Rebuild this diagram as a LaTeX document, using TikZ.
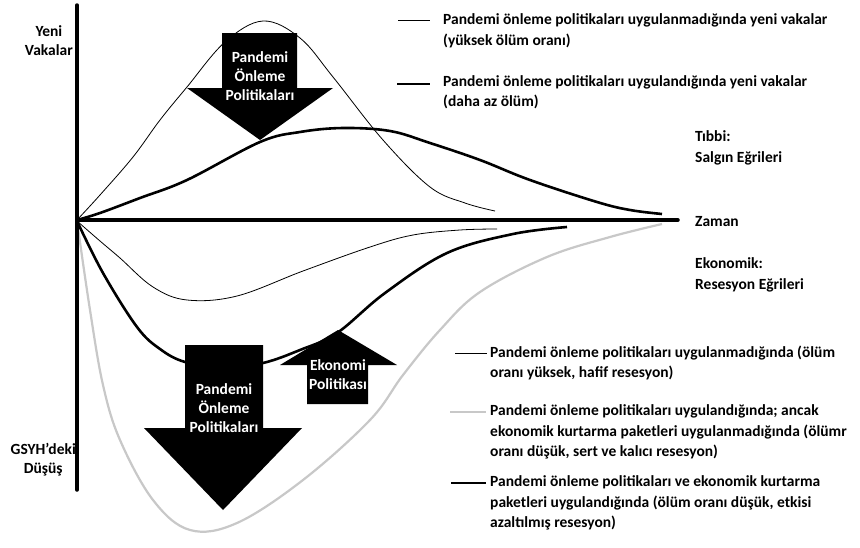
\documentclass[tikz,border=0pt]{standalone}
\usepackage{fontspec}
\setmainfont{Carlito}
\begin{document}
\begin{tikzpicture}[x=1pt,y=-1pt,
  lbl/.style={inner sep=0pt, font=\fontsize{15.5}{20.5}\selectfont\bfseries, align=left, anchor=west},
  lblr/.style={inner sep=0pt, font=\fontsize{15.5}{19}\selectfont\bfseries, align=center, anchor=east},
  arrtxt/.style={inner sep=0pt, text=white, font=\fontsize{15.5}{20}\selectfont\bfseries, align=center},
  thincurve/.style={line width=0.8pt, black},
  thickcurve/.style={line width=2.6pt, black},
  graycurve/.style={line width=2.2pt, color=grayc},
  axis/.style={line width=3.5pt, line cap=round}]
\definecolor{grayc}{RGB}{200,200,200}
\useasboundingbox (0,0) rectangle (860,547);
\fill[white] (0,0) rectangle (860,547);

% economic curves
\draw[graycurve] plot[smooth, tension=0.6] coordinates {(77,221) (90,310) (103,385) (120,440) (153,500) (190,530) (237,523) (303,480) (370,420) (403,375) (440,330) (480,292) (547,257) (610,237) (662,224)};
\draw[thincurve] plot[smooth, tension=0.6] coordinates {(77,221) (100,241) (120,258) (153,287) (187,300) (237,296) (303,271) (370,247) (413,235) (460,230) (497,229)};
\draw[thickcurve] plot[smooth, tension=0.6] coordinates {(77,221) (103,273) (137,327) (160,349) (185,362) (224,368) (263,363) (300,350) (337,333) (385,293) (447,253) (513,234) (567,227)};

% medical curves
\draw[thincurve] plot[smooth, tension=0.6] coordinates {(77,220) (100,195) (133,157) (160,120) (187,87) (225,42) (263,21) (300,38) (333,77) (383,140) (430,187) (465,203) (495,211)};
\draw[thickcurve] plot[smooth, tension=0.6] coordinates {(77,220) (100,213) (140,198) (187,180) (260,142) (300,132) (343,128) (390,131) (430,143) (480,160) (530,180) (597,202) (630,210) (662,214)};

% axes
\draw[axis] (77,5) -- (77,490);
\draw[axis] (77,220) -- (678,220);

% upper arrow
\fill (222,33) -- (297,33) -- (297,88) -- (333,88) -- (260,140) -- (187,88) -- (222,88) -- cycle;
\node[arrtxt] (ua) at (260,76) {Pandemi\\[-1pt]Önleme\\[-1pt]Politikaları};

% lower arrow
\fill (185,345) -- (263,345) -- (263,428) -- (302,428) -- (223,510) -- (144,428) -- (185,428) -- cycle;
\node[arrtxt] (la) at (224,408) {Pandemi\\[-1pt]Önleme\\[-1pt]Politikaları};

% economy arrow
\fill (307,404) -- (368,404) -- (368,365) -- (397,365) -- (338,330) -- (280,365) -- (307,365) -- cycle;
\node[arrtxt] (ea) at (338,375) {Ekonomi\\[-1pt]Politikası};

% axis labels
\node[lblr] (yv) at (73,41) {Yeni\\Vakalar};
\node[lblr] (gd) at (76,460) {GSYH'deki\\Düşüş};
\node[lbl] (zm) at (695,222) {Zaman};
\node[lbl] (tb) at (695,148) {Tıbbi:\\Salgın Eğrileri};
\node[lbl] (ek) at (695,275) {Ekonomik:\\Resesyon Eğrileri};

% upper legend
\coordinate (l1a) at (398,20); \coordinate (l1b) at (430,20);
\draw[thincurve] (l1a) -- (l1b);
\node[lbl] (t1) at (443,31) {Pandemi önleme politikaları uygulanmadığında yeni vakalar\\(yüksek ölüm oranı)};
\coordinate (l2a) at (397,84); \coordinate (l2b) at (430,84);
\draw[thickcurve] (l2a) -- (l2b);
\node[lbl] (t2) at (443,92) {Pandemi önleme politikaları uygulandığında yeni vakalar\\(daha az ölüm)};

% lower legend
\coordinate (l3a) at (455,353); \coordinate (l3b) at (487,353);
\draw[thincurve] (l3a) -- (l3b);
\node[lbl] (t3) at (490,363) {Pandemi önleme politikaları uygulanmadığında (ölüm\\oranı yüksek, hafif resesyon)};
\coordinate (l4a) at (450,412); \coordinate (l4b) at (486,412);
\draw[graycurve] (l4a) -- (l4b);
\node[lbl] (t4) at (490,432) {Pandemi önleme politikaları uygulandığında; ancak\\ekonomik kurtarma paketleri uygulanmadığında (ölümr\\oranı düşük, sert ve kalıcı resesyon)};
\coordinate (l5a) at (451,483); \coordinate (l5b) at (486,483);
\draw[thickcurve] (l5a) -- (l5b);
\node[lbl] (t5) at (490,503) {Pandemi önleme politikaları ve ekonomik kurtarma\\paketleri uygulandığında (ölüm oranı düşük, etkisi\\azaltılmış resesyon)};
\end{tikzpicture}
\end{document}
